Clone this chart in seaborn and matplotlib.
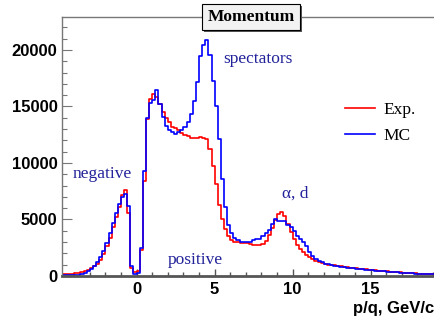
import numpy as np
import pandas as pd
import seaborn as sns
import matplotlib.pyplot as plt
import matplotlib.patheffects as pe
from matplotlib.lines import Line2D
from matplotlib.ticker import MultipleLocator

# histogram binning (GeV/c)
p_lo = -4.8
bin_width = 0.2

# bin contents, bins of 0.2 from -4.8 to 19.0
exp_counts = [
    160, 180, 200, 220, 250, 290, 340, 430, 560, 700,          # -4.8 .. -2.8
    860, 1060, 1450, 1950, 2650, 3400, 4350, 5250, 6150, 7150,  # -2.8 .. -0.8
    7650, 5600, 700, 350, 450, 2300, 8400, 13900, 15700, 16100,  # -0.8 .. 1.2
    15800, 15200, 14500, 13950, 13600, 13200, 13100, 12900, 12650, 12450,  # 1.2 .. 3.2
    12350, 12250, 12200, 12250, 12300, 12250, 12100, 11200, 9700, 8100,  # 3.2 .. 5.2
    6300, 5000, 4150, 3550, 3200, 3050, 3000, 2950, 2950, 2900,  # 5.2 .. 7.2
    2850, 2750, 2740, 2740, 2850, 3100, 3600, 4250, 4950, 5500,  # 7.2 .. 9.2
    5650, 5350, 4600, 3900, 3250, 2750, 2400, 2100, 1850, 1650,  # 9.2 .. 11.2
    1480, 1330, 1220, 1130, 1060, 1010, 970, 930, 890, 850,    # 11.2 .. 13.2
    810, 770, 730, 700, 670, 640, 610, 580, 550, 520,          # 13.2 .. 15.2
    500, 470, 440, 420, 400, 370, 350, 330, 310, 290,          # 15.2 .. 17.2
    270, 260, 240, 230, 220, 200, 190, 180, 170,               # 17.2 .. 19.0
]
mc_counts = [
    60, 60, 70, 80, 90, 130, 200, 300, 440, 620,
    900, 1200, 1650, 2200, 2900, 3800, 4700, 5600, 6350, 6950,
    7300, 6200, 900, 150, 250, 2500, 9300, 14000, 15300, 15600,
    16500, 15200, 14100, 13300, 12950, 12700, 12600, 12750, 12950, 13200,
    13600, 14300, 15500, 17200, 19500, 20400, 20850, 19600, 17300, 15000,
    12100, 8600, 6100, 4500, 3800, 3400, 3150, 3050, 3000, 3050,
    3000, 3150, 3300, 3300, 3500, 3800, 4100, 4600, 5050, 4900,
    4900, 4850, 4550, 4300, 3950, 3550, 3300, 3000, 2650, 2150,
    1750, 1500, 1350, 1200, 1080, 1020, 970, 920, 870, 830,
    790, 750, 710, 680, 650, 620, 590, 560, 530, 500,
    480, 450, 420, 400, 380, 350, 330, 310, 290, 270,
    250, 240, 230, 210, 200, 180, 170, 150, 140,
]
samples = ["Exp.", "MC"]
colors = {"Exp.": "red", "MC": "blue"}

n = len(exp_counts)
edges = [round(p_lo + bin_width * i, 3) for i in range(n + 1)]
centers = [round(e + bin_width / 2, 3) for e in edges[:-1]]

df = pd.DataFrame({
    "p": centers + centers,
    "counts": exp_counts + mc_counts,
    "sample": ["Exp."] * n + ["MC"] * n,
})

plt.rcParams["font.family"] = ["Liberation Sans", "DejaVu Sans"]
plt.rcParams["xtick.labelsize"] = 12
plt.rcParams["ytick.labelsize"] = 12
serif = ["Liberation Serif", "DejaVu Serif"]
ann_color = "#22229a"

fig = plt.figure(figsize=(4.34, 3.2), dpi=100)
ax = fig.add_axes([0.1422, 0.1375, 0.8578, 0.8094])

# MC first in hue_order -> drawn last (on top)
sns.histplot(data=df, x="p", weights="counts", hue="sample", hue_order=["MC", "Exp."],
             bins=edges, element="step", fill=False, palette=colors,
             linewidth=1.2, legend=False, ax=ax)

ax.set_xlim(-4.8, 19.06)
ax.set_ylim(0, 22920)
ax.set_ylabel("")
ax.set_xlabel("p/q, GeV/c", loc="right", fontsize=12, fontweight="bold", labelpad=3)

ax.xaxis.set_major_locator(MultipleLocator(5))
ax.xaxis.set_minor_locator(MultipleLocator(1))
ax.yaxis.set_major_locator(MultipleLocator(5000))
ax.yaxis.set_minor_locator(MultipleLocator(1000))
ax.tick_params(which="both", direction="in")
ax.tick_params(axis="y", which="major", length=7, width=0.8, color="#777777", pad=3)
ax.tick_params(axis="y", which="minor", length=3.5, width=0.8, color="#777777")
ax.tick_params(axis="x", which="major", length=5, width=1.0, color="#555555", pad=4)
ax.tick_params(axis="x", which="minor", length=3, width=1.0, color="#555555")
for lab in ax.get_xticklabels() + ax.get_yticklabels():
    lab.set_fontweight("bold")
    lab.set_fontsize(12)

for side in ["left", "top"]:
    ax.spines[side].set_color("#777777")
    ax.spines[side].set_linewidth(1.0)
ax.spines["bottom"].set_color("#555555")
ax.spines["bottom"].set_linewidth(2.0)
ax.spines["right"].set_visible(False)

# annotations
ax.text(0.514, 0.802, "spectators", transform=fig.transFigure, family=serif,
        fontsize=12.5, color=ann_color, ha="left", va="baseline")
ax.text(0.168, 0.443, "negative", transform=fig.transFigure, family=serif,
        fontsize=12.5, color=ann_color, ha="left", va="baseline")
ax.text(0.387, 0.175, "positive", transform=fig.transFigure, family=serif,
        fontsize=12.5, color=ann_color, ha="left", va="baseline")
ax.text(0.650, 0.383, "α, d", transform=fig.transFigure, family=serif,
        fontsize=12.5, color=ann_color, ha="left", va="baseline")

# legend
handles = [Line2D([], [], color=colors[s], lw=1.2) for s in samples]
leg = ax.legend(handles, samples, loc="upper left", bbox_to_anchor=(345 / 434, 1 - 102 / 320),
                bbox_transform=fig.transFigure, frameon=False, borderpad=0, borderaxespad=0,
                handlelength=1.7, handletextpad=0.5, labelspacing=0.55,
                prop={"family": serif, "size": 12.5})

# title box with a ROOT-like shadow
title = fig.text(0.578, 0.947, "Momentum", ha="center", va="center",
                 family=serif, fontsize=12.5, fontweight="bold", color="black",
                 bbox=dict(boxstyle="square,pad=0.3", fc="#f2f2f2", ec="black", lw=0.8))
title.get_bbox_patch().set_path_effects([
    pe.SimplePatchShadow(offset=(1.5, -1.5), shadow_rgbFace="#555555", alpha=1.0),
    pe.Normal(),
])

fig.savefig("out.png", dpi=100)
